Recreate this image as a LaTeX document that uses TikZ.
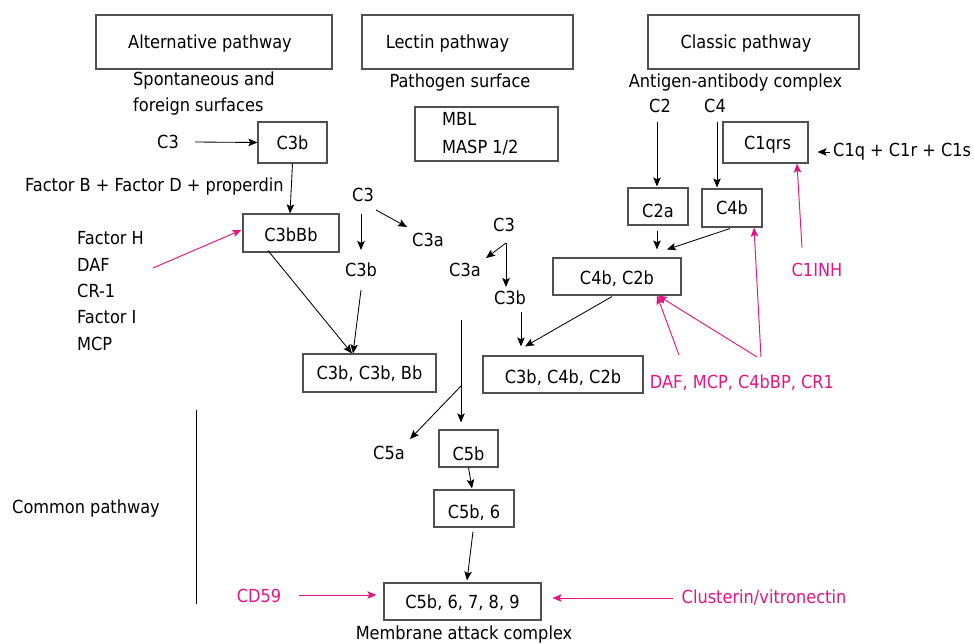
\documentclass[tikz,border=0pt]{standalone}
\usepackage{fontspec}
\setmainfont{DejaVu Sans Condensed}
\usetikzlibrary{arrows.meta,calc}
\definecolor{inhpink}{RGB}{228,20,130}
\definecolor{boxgray}{RGB}{80,80,80}
\begin{document}
\begin{tikzpicture}[x=1pt,y=-1pt,
  every node/.style={font=\fontsize{18}{26}\selectfont},
  txt/.style={inner sep=0pt, text height=13.1pt, text depth=0pt},
  pinktxt/.style={txt, text=inhpink},
  box/.style={draw=boxgray, line width=1.1pt, inner sep=0pt, text height=13.1pt, text depth=0pt},
  arr/.style={draw=black, line width=0.85pt, -{Stealth[length=9pt,width=7.5pt,inset=1.8pt]}},
  parr/.style={draw=inhpink, line width=0.95pt, -{Stealth[length=9pt,width=7.5pt,inset=1.8pt]}},
  plain/.style={draw=black, line width=0.9pt}]
\useasboundingbox (0,0) rectangle (974,643);

% pathway header boxes
\node[box, minimum width=236pt, minimum height=54pt] (alt) at (214,42) {Alternative pathway\hspace*{8pt}};
\node[box, minimum width=211pt, minimum height=54pt] (lectin) at (467.5,42) {Lectin pathway\hspace*{40pt}};
\node[box, minimum width=211pt, minimum height=54pt] (classic) at (753.5,42) {Classic pathway\hspace*{15pt}};

% subtitles
\node[txt, anchor=west] (spont1) at (133,79) {Spontaneous and};
\node[txt, anchor=west] (spont2) at (133,105) {foreign surfaces};
\node[txt] (pathogen) at (460,81) {Pathogen surface};
\node[txt] (antigen) at (735.5,81) {Antigen-antibody complex};

% lectin MBL box
\node[box, minimum width=143pt, minimum height=54pt] (mblbox) at (486.5,134) {};
\node[txt, anchor=west] (mbl1) at (442,119) {MBL};
\node[txt, anchor=west] (mbl2) at (442,147) {MASP 1/2};

% alternative pathway
\node[txt] (c3t1) at (168,142) {C3};
\node[box, minimum width=69pt, minimum height=41pt] (c3b1) at (292.5,142.5) {C3b};
\node[txt, anchor=west] (factorb) at (25,185) {Factor B + Factor D + properdin};
\node[box, minimum width=96pt, minimum height=38pt] (c3bbb) at (291,233) {\raisebox{-1.5pt}{C3bBb}};
\node[txt, anchor=west] (fl1) at (77,238) {Factor H};
\node[txt, anchor=west] (fl2) at (77,265) {DAF};
\node[txt, anchor=west] (fl3) at (77,291) {CR-1};
\node[txt, anchor=west] (fl4) at (77,317) {Factor I};
\node[txt, anchor=west] (fl5) at (77,344) {MCP};
\coordinate (fh) at (153,268);

\node[txt] (c3t2) at (363,195) {C3};
\node[txt] (c3a1) at (428,240) {C3a};
\node[txt] (c3b2) at (361,270) {C3b};
\node[box, minimum width=133pt, minimum height=38pt] (c3bc3bbb) at (369.5,373) {C3b, C3b, Bb};

% lectin branch
\node[txt] (c3t3) at (504,225) {C3};
\node[txt] (c3a2) at (465,270) {C3a};
\node[txt] (c3b3) at (510,298) {C3b};
\node[box, minimum width=160pt, minimum height=37pt] (c3bc4bc2b) at (563,374.5) {\raisebox{-2.5pt}{C3b, C4b, C2b}};

% classic pathway
\node[txt] (c2t) at (660,106) {C2};
\node[txt] (c4t) at (715,106) {C4};
\node[box, minimum width=85pt, minimum height=41pt] (c1qrs) at (765.5,142.5) {\hspace*{4pt}C1qrs};
\node[txt, anchor=west] (c1qt) at (833,150) {C1q + C1r + C1s};
\node[box, minimum width=60pt, minimum height=37pt] (c2a) at (658,206.5) {\raisebox{-4pt}{C2a}};
\node[box, minimum width=60pt, minimum height=38pt] (c4b) at (732,208) {C4b};
\node[box, minimum width=128pt, minimum height=37pt] (c4bc2b) at (617,276.5) {\raisebox{-1.5pt}{C4b, C2b}};
\node[pinktxt] (c1inh) at (817,270) {C1INH};
\node[pinktxt] (daf) at (742,382) {DAF, MCP, C4bBP, CR1};

% common pathway
\coordinate (cp) at (461,320);
\coordinate (br) at (461,386);
\node[txt] (c5a) at (389,453) {C5a};
\node[box, minimum width=59pt, minimum height=37pt] (c5b) at (468.5,448.5) {\raisebox{-5.5pt}{C5b}};
\node[box, minimum width=80pt, minimum height=37pt] (c5b6) at (474,508.5) {\raisebox{-3.5pt}{C5b, 6}};
\node[box, minimum width=157pt, minimum height=37pt] (mac) at (462.5,601.5) {C5b, 6, 7, 8, 9};
\node[txt] (mactext) at (464,633) {Membrane attack complex};
\node[pinktxt] (cd59) at (259,596) {CD59};
\node[pinktxt] (clust) at (764,597) {Clusterin/vitronectin};
\node[txt, anchor=west] (common) at (12,507) {Common pathway};
\coordinate (vt) at (196,410);
\coordinate (vb) at (196,604);
\draw[plain] (vt) -- (vb);

% connectors: alternative
\draw[arr] ($(c3t1)+(27,0)$) -- (c3b1.west);
\draw[arr] (c3b1.south) -- ($(c3bbb.north)+(-1,0)$);
\draw[parr] (fh) -- ($(c3bbb.west)+(-1,-3)$);
\draw[arr] ($(c3t2)+(-2,19)$) -- ($(c3b2)+(0,-20)$);
\draw[arr] ($(c3t2)+(13,15)$) -- ($(c3a1)+(-21,-13)$);
\draw[arr] ($(c3bbb.south)+(-23,-2)$) -- ($(c3bc3bbb.north)+(-17.5,0)$);
\draw[arr] ($(c3b2)+(0,20)$) -- ($(c3bc3bbb.north)+(-16.5,0)$);

% connectors: lectin
\draw[arr] ($(c3t3)+(2,18)$) -- ($(c3a2)+(21,-12)$);
\draw[arr] ($(c3t3)+(2,18)$) -- ($(c3b3)+(-4,-11)$);
\draw[arr] ($(c3b3)+(11,14)$) -- ($(c3bc4bc2b.north)+(-42,-9)$);
\draw[arr] ($(c4bc2b.south)+(-5,1)$) -- ($(c3bc4bc2b.north)+(-38,-9)$);

% connectors: classic
\draw[arr] ($(c2t)+(-3,16)$) -- ($(c2a.north)+(-1,-1)$);
\draw[arr] ($(c4t)+(2,16)$) -- ($(c4b.north)+(-15,-1)$);
\draw[arr] ($(c2a.south)+(-1,5)$) -- ($(c4bc2b.north)+(40,-8)$);
\draw[arr] ($(c4b.south)+(-2,1)$) -- ($(c4bc2b.north)+(50,-8)$);
\draw[arr] ($(c1qt.west)+(-3,2)$) -- ($(c1qrs.east)+(9,9.5)$);
\draw[parr] ($(c1inh)+(-15,-22)$) -- ($(c1qrs.south)+(31.5,0)$);
\draw[parr] ($(daf)+(-63,-27)$) -- ($(c4bc2b.south)+(40,0)$);
\draw[parr] ($(daf)+(15,-25)$) -- ($(c4bc2b.south)+(41,0)$);
\draw[parr] ($(daf)+(19,-25)$) -- ($(c4b.south)+(22,0)$);

% connectors: common
\draw[arr] (cp) -- ($(c5b.north)+(-7.5,-7)$);
\draw[arr] (br) -- ($(c5a)+(21,-14)$);
\draw[arr] (c5b.south) -- ($(c5b6.north)+(-2,-1)$);
\draw[arr] ($(c5b6.south)+(-1,4)$) -- ($(mac.north)+(4.5,-2)$);
\draw[parr] ($(cd59)+(40,-1)$) -- ($(mac.west)+(-7,-6.5)$);
\draw[parr] ($(clust)+(-91,1)$) -- ($(mac.east)+(11,-3.5)$);
\end{tikzpicture}
\end{document}
